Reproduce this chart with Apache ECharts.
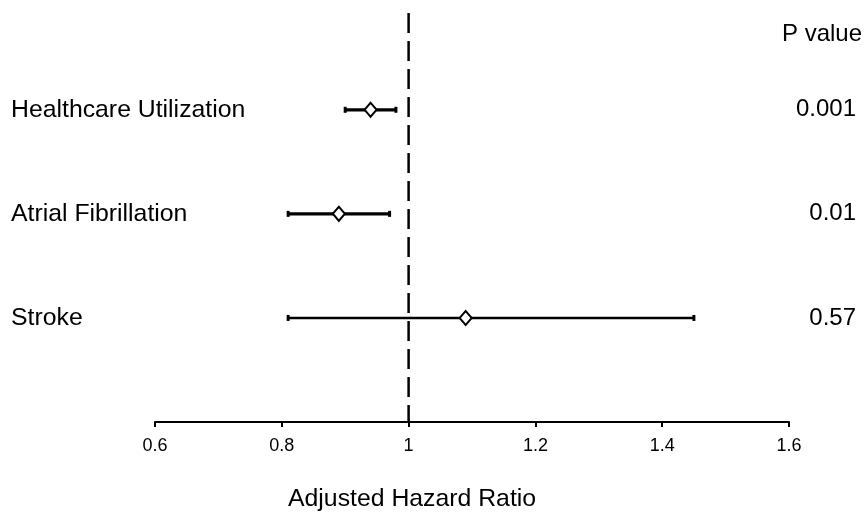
<!DOCTYPE html>
<html>
<head>
<meta charset="utf-8">
<script src="https://cdn.jsdelivr.net/npm/echarts@6/dist/echarts.min.js"></script>
<style>
html,body{margin:0;padding:0;background:#fff;}
#chart{width:865px;height:513px;}
</style>
</head>
<body>
<div id="chart"></div>
<script>
// Data (rows listed top to bottom)
var outcomes = ['Healthcare Utilization', 'Atrial Fibrillation', 'Stroke'];
var hazardRatio = [0.94, 0.89, 1.09];
var ciLower = [0.90, 0.81, 0.81];
var ciUpper = [0.98, 0.97, 1.45];
var pValues = ['0.001', '0.01', '0.57'];
var xTicks = [0.6, 0.8, 1, 1.2, 1.4, 1.6];

var n = outcomes.length;
function rowY(i) { return n - i; }

var ciData = outcomes.map(function (name, i) {
  return [ciLower[i], ciUpper[i], rowY(i), i];
});
var pointData = outcomes.map(function (name, i) {
  return [hazardRatio[i], rowY(i)];
});

var FONT = 'Liberation Sans, Arial, sans-serif';
var chart = echarts.init(document.getElementById('chart'), null, {renderer: 'canvas'});
var option = {
  animation: false,
  backgroundColor: '#fff',
  grid: {left: 155, right: 76, top: 13, bottom: 91, containLabel: false},
  xAxis: {
    type: 'value', min: 0.6, max: 1.6, interval: 0.2,
    axisLine: {show: true, lineStyle: {color: '#000', width: 2}},
    axisTick: {show: true, length: 5, lineStyle: {color: '#000', width: 2}},
    axisLabel: {
      color: '#000', fontSize: 18, fontFamily: FONT, margin: 15,
      rich: {t: {fontSize: 18, fontFamily: FONT, color: '#000'}},
      formatter: function (v) {
        var r = Math.round(v * 10) / 10;
        for (var k = 0; k < xTicks.length; k++) { if (Math.abs(xTicks[k] - r) < 1e-9) return '{t|' + xTicks[k] + '}'; }
        return '';
      }
    },
    splitLine: {show: false}
  },
  yAxis: [{
    type: 'value', min: 0, max: 3.93, interval: 1, position: 'left',
    axisLine: {show: false}, axisTick: {show: false}, splitLine: {show: false},
    axisLabel: {
      show: true, align: 'left', margin: 144, color: '#000', fontSize: 24.8, fontFamily: FONT,
      formatter: function (v) {
        var i = n - Math.round(v);
        if (Math.abs(v - Math.round(v)) > 1e-6 || i < 0 || i >= n) return '';
        return outcomes[i];
      }
    }
  }, {
    type: 'value', min: 0, max: 3.93, interval: 1, position: 'right',
    axisLine: {show: false}, axisTick: {show: false}, splitLine: {show: false},
    axisLabel: {
      show: true, align: 'right', margin: 67, color: '#000', fontSize: 24, fontFamily: FONT,
      formatter: function (v) {
        var i = n - Math.round(v);
        if (Math.abs(v - Math.round(v)) > 1e-6 || i < 0 || i >= n) return '';
        return pValues[i];
      }
    }
  }],
  series: [{
    type: 'line',
    data: [[1, 3.93], [1, 0]],
    symbol: 'none',
    lineStyle: {color: '#000', width: 2.5, type: [20, 8]},
    z: 1,
    silent: true
  }, {
    type: 'custom',
    data: ciData,
    encode: {x: [0, 1], y: 2},
    z: 2,
    renderItem: function (params, api) {
      var lo = api.coord([api.value(0), api.value(2)]);
      var hi = api.coord([api.value(1), api.value(2)]);
      var idx = api.value(3);
      var lw = idx === 2 ? 2.5 : 3.2;
      var capH = 3;
      var style = {stroke: '#000', lineWidth: lw, fill: null};
      var capStyle = {stroke: '#000', lineWidth: 3, fill: null};
      return {
        type: 'group',
        children: [
          {type: 'line', shape: {x1: lo[0], y1: lo[1], x2: hi[0], y2: hi[1]}, style: style},
          {type: 'line', shape: {x1: lo[0], y1: lo[1] - capH, x2: lo[0], y2: lo[1] + capH}, style: capStyle},
          {type: 'line', shape: {x1: hi[0], y1: hi[1] - capH, x2: hi[0], y2: hi[1] + capH}, style: capStyle}
        ]
      };
    }
  }, {
    type: 'scatter',
    data: pointData,
    symbol: 'diamond',
    symbolSize: [12, 14],
    itemStyle: {color: '#fff', borderColor: '#000', borderWidth: 2, opacity: 1},
    z: 3
  }],
  graphic: [{
    type: 'text', left: 782, top: 22,
    style: {text: 'P value', fontSize: 24, fontFamily: FONT, fill: '#000'}
  }, {
    type: 'text', left: 288, top: 487,
    style: {text: 'Adjusted Hazard Ratio', fontSize: 24.8, fontFamily: FONT, fill: '#000'}
  }]
};
chart.setOption(option);
</script>
</body>
</html>
